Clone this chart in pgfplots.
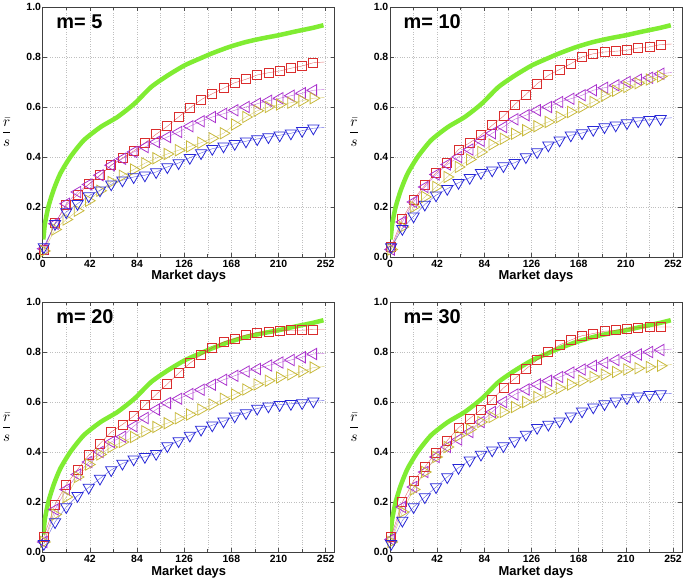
\documentclass[border=0pt]{standalone}
\usepackage{pgfplots}
\pgfplotsset{compat=1.18}
\usepackage{pgfplotstable}
\usepackage{amsmath}
\usepackage{fontspec}
\setmainfont{Liberation Sans}
\definecolor{cgreen}{RGB}{128,236,50}
\definecolor{cred}{RGB}{218,45,45}
\definecolor{cpurple}{RGB}{170,50,205}
\definecolor{cyellow}{RGB}{200,185,60}
\definecolor{cblue}{RGB}{40,40,215}

\pgfplotstableread{
d g
0.5 0.07
1 0.09
2 0.133
5 0.2
9.6 0.267
15.6 0.333
24.6 0.4
36.6 0.467
51.6 0.52
66.6 0.56
81.6 0.613
96.6 0.68
111.6 0.727
126.6 0.767
141.6 0.797
151 0.815
166 0.840
181 0.860
196 0.875
210 0.887
225 0.902
240 0.916
250 0.927
}\tG

\pgfplotstableread{
d r p y b
1 0.029 0.033 0.024 0.040
11 0.136 0.133 0.110 0.133
21 0.207 0.213 0.150 0.180
31 0.249 0.260 0.185 0.213
41 0.291 0.290 0.225 0.244
51 0.327 0.327 0.265 0.267
61 0.367 0.367 0.300 0.291
71 0.396 0.393 0.325 0.307
81 0.424 0.420 0.350 0.320
91 0.456 0.440 0.375 0.327
101 0.491 0.460 0.395 0.340
111 0.523 0.480 0.412 0.360
121 0.560 0.500 0.427 0.376
131 0.596 0.523 0.442 0.397
141 0.629 0.543 0.457 0.416
151 0.653 0.560 0.475 0.433
161 0.675 0.573 0.495 0.443
171 0.697 0.587 0.530 0.453
181 0.711 0.600 0.560 0.463
191 0.728 0.613 0.585 0.472
201 0.737 0.625 0.600 0.480
211 0.744 0.635 0.610 0.487
221 0.755 0.645 0.617 0.495
231 0.764 0.655 0.625 0.505
241 0.777 0.667 0.635 0.515
251 0.780 0.670 0.638 0.518
}\tA

\pgfplotstableread{
d r p y b
1 0.040 0.030 0.030 0.040
11 0.153 0.140 0.120 0.113
21 0.230 0.220 0.200 0.163
31 0.287 0.280 0.240 0.210
41 0.337 0.330 0.280 0.247
51 0.377 0.370 0.320 0.273
61 0.430 0.400 0.360 0.297
71 0.457 0.430 0.390 0.317
81 0.487 0.465 0.420 0.337
91 0.527 0.495 0.450 0.347
101 0.563 0.520 0.473 0.364
111 0.610 0.551 0.493 0.377
121 0.650 0.567 0.507 0.400
131 0.693 0.587 0.523 0.420
141 0.727 0.600 0.540 0.447
151 0.750 0.620 0.560 0.467
161 0.773 0.633 0.580 0.487
171 0.800 0.647 0.600 0.496
181 0.813 0.667 0.620 0.509
191 0.820 0.677 0.645 0.520
201 0.823 0.687 0.665 0.527
211 0.827 0.700 0.680 0.536
221 0.836 0.709 0.695 0.544
231 0.840 0.717 0.710 0.549
241 0.850 0.733 0.722 0.553
251 0.852 0.738 0.727 0.557
}\tB

\pgfplotstableread{
d r p y b
1 0.060 0.040 0.040 0.033
11 0.190 0.170 0.150 0.120
21 0.270 0.250 0.220 0.180
31 0.330 0.310 0.300 0.225
41 0.387 0.360 0.350 0.258
51 0.433 0.400 0.390 0.294
61 0.480 0.440 0.420 0.328
71 0.510 0.461 0.440 0.354
81 0.543 0.503 0.460 0.371
91 0.587 0.536 0.483 0.381
101 0.630 0.570 0.500 0.393
111 0.672 0.596 0.515 0.424
121 0.715 0.613 0.535 0.444
131 0.755 0.632 0.550 0.466
141 0.788 0.649 0.570 0.490
151 0.817 0.669 0.590 0.507
161 0.840 0.689 0.613 0.523
171 0.854 0.705 0.630 0.543
181 0.868 0.722 0.650 0.556
191 0.878 0.732 0.670 0.574
201 0.881 0.746 0.685 0.583
211 0.885 0.758 0.698 0.589
221 0.887 0.768 0.710 0.593
231 0.887 0.779 0.722 0.596
241 0.890 0.792 0.738 0.603
251 0.890 0.795 0.742 0.606
}\tC

\pgfplotstableread{
d r p y b
1 0.062 0.050 0.040 0.033
11 0.200 0.180 0.160 0.126
21 0.285 0.260 0.250 0.180
31 0.340 0.320 0.320 0.220
41 0.398 0.380 0.380 0.260
51 0.446 0.420 0.420 0.300
61 0.497 0.450 0.465 0.337
71 0.534 0.480 0.490 0.367
81 0.570 0.520 0.520 0.390
91 0.610 0.560 0.540 0.407
101 0.656 0.600 0.560 0.424
111 0.693 0.630 0.580 0.444
121 0.732 0.650 0.600 0.470
131 0.768 0.670 0.620 0.497
141 0.801 0.685 0.640 0.510
151 0.828 0.700 0.655 0.523
161 0.848 0.718 0.670 0.543
171 0.865 0.730 0.685 0.563
181 0.874 0.745 0.700 0.579
191 0.883 0.757 0.710 0.592
201 0.887 0.768 0.720 0.603
211 0.894 0.780 0.730 0.616
221 0.897 0.790 0.735 0.623
231 0.900 0.800 0.740 0.629
241 0.900 0.808 0.745 0.632
251 0.900 0.812 0.750 0.635
}\tD

\pgfplotsset{
  panel/.style={
    scale only axis, width=292bp, height=250bp,
    xmin=0, xmax=260, ymin=0, ymax=1,
    xtick={0,42,84,126,168,210,252},
    minor xtick={21,63,105,147,189,231},
    xticklabels={0,42,84,126,168,210,252},
    ytick={0,0.2,0.4,0.6,0.8,1},
    yticklabels={0.0,0.2,0.4,0.6,0.8,1.0},
    grid=both,
    major grid style={black!25, dotted, line width=0.5pt},
    minor grid style={black!25, dotted, line width=0.5pt},
    tick align=inside, major tick length=4bp, minor tick length=3bp,
    tick style={black!70, line width=0.6pt},
    axis line style={black!75, line width=0.8pt},
    ticklabel style={font=\bfseries\fontsize{10.5}{12}\selectfont},
    yticklabel style={inner xsep=1.5bp},
    xlabel={Market days},
    xlabel style={font=\bfseries\fontsize{13}{14}\selectfont, at={(axis description cs:0.5,0)}, anchor=base, yshift=-23bp},
    ylabel={\scalebox{1.5}{$\dfrac{\bar{r}}{s}$}},
    ylabel style={rotate=-90, at={(axis description cs:0,0.5)}, anchor=center, xshift=-36bp},
  }
}

\newcommand\drawseries[5]{%
  \addplot[#3, line width=0.4pt, opacity=0.7] table[x=d,y=#2]{#1};
  \addplot[#3, only marks, mark=#4, mark size=#5, line width=0.8pt, skip coords between index={25}{26}] table[x=d,y=#2]{#1};
}
\newcommand\drawpanel[2]{%
  \addplot[cgreen, line width=4.5bp, smooth, tension=0.4] table[x=d,y=g]{\tG};
  \drawseries{#1}{r}{cred}{square}{4.5bp}
  \drawseries{#1}{p}{cpurple}{triangle,mark options={rotate=90}}{6.5bp}
  \drawseries{#1}{y}{cyellow}{triangle,mark options={rotate=-90}}{6.5bp}
  \drawseries{#1}{b}{cblue}{triangle,mark options={rotate=180}}{6.5bp}
  \node[anchor=west, font=\bfseries\fontsize{20}{22}\selectfont] at (rel axis cs:0.035,0.94) {#2};
}

\begin{document}
\begin{tikzpicture}
\useasboundingbox (0,0) rectangle (685bp,580bp);
\begin{axis}[panel, at={(42.7bp,323bp)}, anchor=south west]
\drawpanel{\tA}{m= 5}
\end{axis}
\begin{axis}[panel, at={(390bp,323bp)}, anchor=south west]
\drawpanel{\tB}{m= 10}
\end{axis}
\begin{axis}[panel, at={(42.7bp,28bp)}, anchor=south west]
\drawpanel{\tC}{m= 20}
\end{axis}
\begin{axis}[panel, at={(390bp,28bp)}, anchor=south west]
\drawpanel{\tD}{m= 30}
\end{axis}
\end{tikzpicture}
\end{document}
